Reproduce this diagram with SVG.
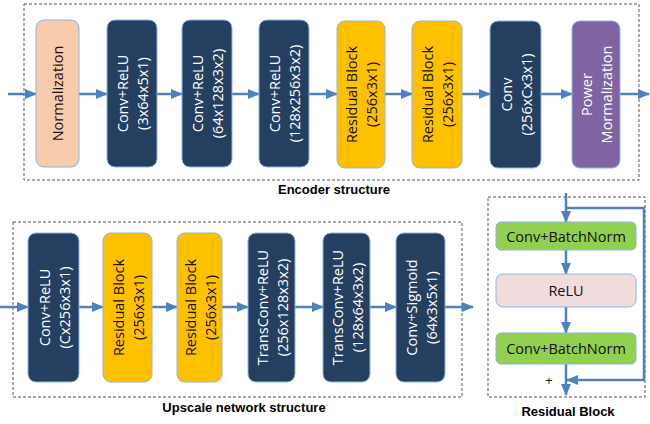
<svg xmlns="http://www.w3.org/2000/svg" width="650" height="424" viewBox="0 0 650 424">
<style>
.frame{fill:none;stroke:#555;stroke-width:1;stroke-dasharray:3,2}
.n{stroke:#8EB4E3;stroke-width:1}
.dark{fill:#243F60}
.res{fill:#FFC000}
.peach{fill:#F8CBAD}
.purple{fill:#8064A2}
.green{fill:#92D050}
.pink{fill:#F2DCDB}
.t{font-family:"Open Sans","Liberation Sans",sans-serif;font-size:14.5px;text-anchor:middle;dominant-baseline:central}
.w{fill:#fff}
.k{fill:#111}
.cap{font-family:"Liberation Sans","Open Sans",sans-serif;font-size:13px;font-weight:bold;text-anchor:middle;fill:#000}
.c{stroke:#4F81BD;stroke-width:2.5;fill:none}
</style>
<defs>
<marker id="ah" markerUnits="userSpaceOnUse" markerWidth="12" markerHeight="10" refX="11" refY="5" orient="auto">
<path d="M0,0 L12,5 L0,10 Z" fill="#4F81BD"/>
</marker>
</defs>
<rect class="frame" x="24" y="4" width="615" height="176"/>
<rect class="frame" x="13" y="222" width="449" height="175"/>
<rect class="frame" x="488" y="197" width="157" height="200"/>
<g id="connectors">
<line class="c" x1="8" y1="94" x2="36" y2="94" marker-end="url(#ah)"/>
<line class="c" x1="79" y1="94" x2="107" y2="94" marker-end="url(#ah)"/>
<line class="c" x1="157" y1="94" x2="182" y2="94" marker-end="url(#ah)"/>
<line class="c" x1="232" y1="94" x2="259" y2="94" marker-end="url(#ah)"/>
<line class="c" x1="309" y1="94" x2="337" y2="94" marker-end="url(#ah)"/>
<line class="c" x1="385" y1="94" x2="412" y2="94" marker-end="url(#ah)"/>
<line class="c" x1="462" y1="94" x2="490" y2="94" marker-end="url(#ah)"/>
<line class="c" x1="541" y1="94" x2="572" y2="94" marker-end="url(#ah)"/>
<line class="c" x1="620" y1="94" x2="649" y2="94" marker-end="url(#ah)"/>
<line class="c" x1="0" y1="307" x2="28" y2="307" marker-end="url(#ah)"/>
<line class="c" x1="79" y1="307" x2="103" y2="307" marker-end="url(#ah)"/>
<line class="c" x1="152" y1="307" x2="177" y2="307" marker-end="url(#ah)"/>
<line class="c" x1="222" y1="307" x2="248" y2="307" marker-end="url(#ah)"/>
<line class="c" x1="295" y1="307" x2="323" y2="307" marker-end="url(#ah)"/>
<line class="c" x1="370" y1="307" x2="396" y2="307" marker-end="url(#ah)"/>
<line class="c" x1="445" y1="307" x2="473" y2="307" marker-end="url(#ah)"/>
<line class="c" x1="566" y1="193" x2="566" y2="222" marker-end="url(#ah)"/>
<polyline class="c" points="566,208 644,208 644,380 567,380" marker-end="url(#ah)"/>
<line class="c" x1="566" y1="250" x2="566" y2="274" marker-end="url(#ah)"/>
<line class="c" x1="566" y1="307" x2="566" y2="333" marker-end="url(#ah)"/>
<line class="c" x1="566" y1="364" x2="566" y2="395" marker-end="url(#ah)"/>
</g>
<g id="normalization"><rect class="n peach" x="36" y="20" width="43" height="147" rx="8"/><text class="t k" transform="translate(57.5,93.5) rotate(-90)">Normalization</text></g>
<g id="enc-conv1"><rect class="n dark" x="107" y="20" width="50" height="147" rx="8"/><text class="t w" transform="translate(132,93.5) rotate(-90)"><tspan x="0" y="-10">Conv+ReLU</tspan><tspan x="0" y="10">(3x64x5x1)</tspan></text></g>
<g id="enc-conv2"><rect class="n dark" x="182" y="20" width="50" height="147" rx="8"/><text class="t w" transform="translate(207,93.5) rotate(-90)"><tspan x="0" y="-10">Conv+ReLU</tspan><tspan x="0" y="10">(64x128x3x2)</tspan></text></g>
<g id="enc-conv3"><rect class="n dark" x="259" y="20" width="50" height="147" rx="8"/><text class="t w" transform="translate(284,93.5) rotate(-90)"><tspan x="0" y="-10">Conv+ReLU</tspan><tspan x="0" y="10">(128x256x3x2)</tspan></text></g>
<g id="enc-res1"><rect class="n res" x="337" y="21" width="48" height="147" rx="8"/><text class="t k" transform="translate(361,94.5) rotate(-90)"><tspan x="0" y="-10">Residual Block</tspan><tspan x="0" y="10">(256x3x1)</tspan></text></g>
<g id="enc-res2"><rect class="n res" x="412" y="21" width="50" height="147" rx="8"/><text class="t k" transform="translate(437,94.5) rotate(-90)"><tspan x="0" y="-10">Residual Block</tspan><tspan x="0" y="10">(256x3x1)</tspan></text></g>
<g id="enc-conv4"><rect class="n dark" x="490" y="21" width="51" height="147" rx="8"/><text class="t w" transform="translate(515.5,94.5) rotate(-90)"><tspan x="0" y="-10">Conv</tspan><tspan x="0" y="10">(256xCx3x1)</tspan></text></g>
<g id="power-norm"><rect class="n purple" x="572" y="21" width="48" height="147" rx="8"/><text class="t w" transform="translate(596,94.5) rotate(-90)"><tspan x="0" y="-10">Power</tspan><tspan x="0" y="10">Mormalization</tspan></text></g>
<text class="cap" x="334" y="194">Encoder structure</text>
<g id="up-conv1"><rect class="n dark" x="28" y="233" width="51" height="149" rx="8"/><text class="t w" transform="translate(53.5,307.5) rotate(-90)"><tspan x="0" y="-10">Conv+ReLU</tspan><tspan x="0" y="10">(Cx256x3x1)</tspan></text></g>
<g id="up-res1"><rect class="n res" x="103" y="233" width="49" height="149" rx="8"/><text class="t k" transform="translate(127.5,307.5) rotate(-90)"><tspan x="0" y="-10">Residual Block</tspan><tspan x="0" y="10">(256x3x1)</tspan></text></g>
<g id="up-res2"><rect class="n res" x="177" y="233" width="45" height="149" rx="8"/><text class="t k" transform="translate(199.5,307.5) rotate(-90)"><tspan x="0" y="-10">Residual Block</tspan><tspan x="0" y="10">(256x3x1)</tspan></text></g>
<g id="up-tconv1"><rect class="n dark" x="248" y="233" width="47" height="149" rx="8"/><text class="t w" transform="translate(271.5,307.5) rotate(-90)"><tspan x="0" y="-10">TransConv+ReLU</tspan><tspan x="0" y="10">(256x128x3x2)</tspan></text></g>
<g id="up-tconv2"><rect class="n dark" x="323" y="233" width="47" height="149" rx="8"/><text class="t w" transform="translate(346.5,307.5) rotate(-90)"><tspan x="0" y="-10">TransConv+ReLU</tspan><tspan x="0" y="10">(128x64x3x2)</tspan></text></g>
<g id="up-sigmoid"><rect class="n dark" x="396" y="233" width="49" height="149" rx="8"/><text class="t w" transform="translate(420.5,307.5) rotate(-90)"><tspan x="0" y="-10">Conv+Sigmoid</tspan><tspan x="0" y="10">(64x3x5x1)</tspan></text></g>
<text class="cap" x="244" y="412">Upscale network structure</text>
<g id="rb-conv1"><rect class="n green" x="496" y="222" width="140" height="28" rx="5"/><text class="t k" x="566" y="236">Conv+BatchNorm</text></g>
<g id="rb-relu"><rect class="n pink" x="496" y="274" width="140" height="33" rx="7"/><text class="t k" x="566" y="290.5">ReLU</text></g>
<g id="rb-conv2"><rect class="n green" x="496" y="333" width="140" height="31" rx="5"/><text class="t k" x="566" y="348.5">Conv+BatchNorm</text></g>
<text class="t k" x="549" y="380" style="font-size:13px">+</text>
<text class="cap" x="568" y="416">Residual Block</text>
</svg>
